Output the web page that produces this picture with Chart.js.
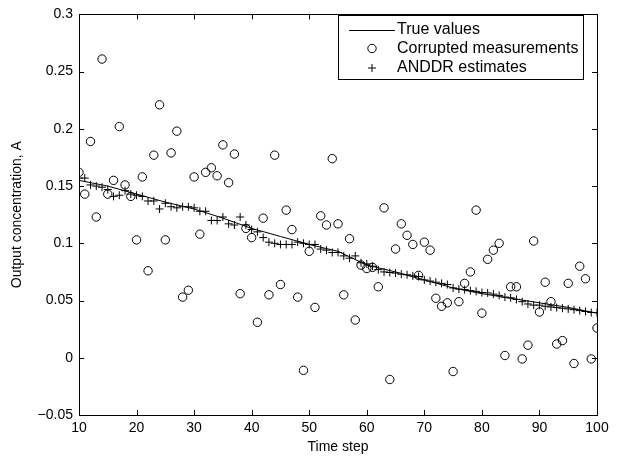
<!DOCTYPE html>
<html>
<head>
<meta charset="utf-8">
<script src="https://cdn.jsdelivr.net/npm/chart.js@4.4.0/dist/chart.umd.min.js"></script>
<style>
  html, body { margin: 0; padding: 0; background: #fff; }
  #wrap { width: 623px; height: 459px; }
</style>
</head>
<body>
<div id="wrap"><canvas id="chart" width="623" height="459"></canvas></div>
<script>
// Time steps (x axis)
const timeSteps = [
  10, 11, 12, 13, 14, 15, 16, 17, 18, 19, 20, 21, 22, 23, 24, 25, 26, 27, 28, 29,
  30, 31, 32, 33, 34, 35, 36, 37, 38, 39, 40, 41, 42, 43, 44, 45, 46, 47, 48, 49,
  50, 51, 52, 53, 54, 55, 56, 57, 58, 59, 60, 61, 62, 63, 64, 65, 66, 67, 68, 69,
  70, 71, 72, 73, 74, 75, 76, 77, 78, 79, 80, 81, 82, 83, 84, 85, 86, 87, 88, 89,
  90, 91, 92, 93, 94, 95, 96, 97, 98, 99, 100
];

// Corrupted measurements (circles), one per time step
const measuredValues = [
  0.162, 0.143, 0.189, 0.123, 0.261, 0.143, 0.155, 0.202, 0.151, 0.141,
  0.103, 0.158, 0.076, 0.177, 0.221, 0.103, 0.179, 0.198, 0.053, 0.059,
  0.158, 0.108, 0.162, 0.166, 0.159, 0.186, 0.153, 0.178, 0.056, 0.113,
  0.105, 0.031, 0.122, 0.055, 0.177, 0.064, 0.129, 0.112, 0.053, -0.011,
  0.093, 0.044, 0.124, 0.116, 0.174, 0.117, 0.055, 0.104, 0.033, 0.081,
  0.078, 0.079, 0.062, 0.131, -0.019, 0.095, 0.117, 0.107, 0.099, 0.072,
  0.101, 0.094, 0.052, 0.045, 0.048, -0.012, 0.049, 0.065, 0.075, 0.129,
  0.039, 0.086, 0.094, 0.100, 0.002, 0.062, 0.062, -0.001, 0.011, 0.102,
  0.040, 0.066, 0.049, 0.012, 0.015, 0.065, -0.005, 0.080, 0.069, -0.001,
  0.026
];

// ANDDR estimates (crosses), one per time step
const estimateValues = [
  0.157, 0.157, 0.151, 0.150, 0.149, 0.147, 0.141, 0.142, 0.146, 0.143,
  0.142, 0.141, 0.137, 0.137, 0.130, 0.135, 0.132, 0.131, 0.132, 0.132,
  0.131, 0.128, 0.128, 0.120, 0.120, 0.123, 0.117, 0.116, 0.123, 0.116,
  0.112, 0.110, 0.105, 0.101, 0.100, 0.099, 0.099, 0.099, 0.101, 0.100,
  0.099, 0.099, 0.095, 0.094, 0.092, 0.092, 0.089, 0.087, 0.089, 0.083,
  0.082, 0.080, 0.077, 0.075, 0.0745, 0.074, 0.073, 0.0725, 0.0716, 0.071,
  0.068, 0.067, 0.066, 0.065, 0.064, 0.061, 0.060, 0.0596, 0.0587, 0.058,
  0.057, 0.0567, 0.0556, 0.0545, 0.053, 0.0524, 0.051, 0.049, 0.047, 0.046,
  0.046, 0.045, 0.0444, 0.0438, 0.0433, 0.0427, 0.042, 0.0412, 0.0404, 0.0395,
  0.0395
];

// True values (solid line), read every 5 steps
const trueSteps = [10, 15, 20, 25, 30, 35, 40, 45, 50, 55, 60, 65, 70, 75, 80, 85, 90, 95, 100];
const trueValues = [
  0.155, 0.150, 0.143, 0.136, 0.130, 0.122, 0.113, 0.106, 0.099, 0.093,
  0.081, 0.075, 0.068, 0.061, 0.056, 0.052, 0.048, 0.044, 0.039
];

// Axis ticks
const xTickValues = [10, 20, 30, 40, 50, 60, 70, 80, 90, 100];
const yTickValues = [-0.05, 0, 0.05, 0.1, 0.15, 0.2, 0.25, 0.3];
const yTickLabels = ["\u22120.05", "0", "0.05", "0.1", "0.15", "0.2", "0.25", "0.3"];

const FONT = "'Liberation Sans', Arial, Helvetica, sans-serif";

function toPoints(xs, ys) {
  return xs.map((x, i) => ({ x: x, y: ys[i] }));
}

// Box round the plot with inward ticks on all four sides
const framePlugin = {
  id: "frame",
  afterDraw(chart) {
    const { ctx, chartArea: a, scales } = chart;
    const len = 5;
    ctx.save();
    ctx.strokeStyle = "#000";
    ctx.lineWidth = 1;
    ctx.beginPath();
    xTickValues.forEach((v) => {
      const px = Math.round(scales.x.getPixelForValue(v)) + 0.5;
      ctx.moveTo(px, a.bottom);
      ctx.lineTo(px, a.bottom - len);
      ctx.moveTo(px, a.top);
      ctx.lineTo(px, a.top + len);
    });
    yTickValues.forEach((v) => {
      const py = Math.round(scales.y.getPixelForValue(v)) + 0.5;
      ctx.moveTo(a.left, py);
      ctx.lineTo(a.left + len, py);
      ctx.moveTo(a.right, py);
      ctx.lineTo(a.right - len, py);
    });
    ctx.stroke();
    ctx.strokeRect(Math.round(a.left) + 0.5, Math.round(a.top) + 0.5,
      Math.round(a.right - a.left), Math.round(a.bottom - a.top));
    ctx.restore();
  },
};

// MATLAB style legend box in the upper right corner
const legendBoxPlugin = {
  id: "legendBox",
  afterDraw(chart) {
    const { ctx } = chart;
    const box = { left: 338.5, top: 15.5, width: 245, height: 64 };
    const rows = [29.5, 48.5, 68];
    const symX = 372;
    const textX = 397;
    ctx.save();
    ctx.fillStyle = "#fff";
    ctx.fillRect(box.left, box.top, box.width, box.height);
    ctx.strokeStyle = "#000";
    ctx.lineWidth = 1;
    ctx.strokeRect(box.left, box.top, box.width, box.height);

    chart.data.datasets.forEach((ds, i) => {
      const y = rows[i];
      ctx.strokeStyle = "#000";
      ctx.lineWidth = 1;
      ctx.beginPath();
      if (ds.showLine) {
        ctx.moveTo(349, Math.round(y) + 0.5);
        ctx.lineTo(395, Math.round(y) + 0.5);
      } else if (ds.pointStyle === "circle") {
        ctx.arc(symX, y, ds.pointRadius, 0, Math.PI * 2);
      } else {
        ctx.moveTo(symX - ds.pointRadius, y);
        ctx.lineTo(symX + ds.pointRadius, y);
        ctx.moveTo(symX, y - ds.pointRadius);
        ctx.lineTo(symX, y + ds.pointRadius);
      }
      ctx.stroke();
      ctx.fillStyle = "#000";
      ctx.font = "16px " + FONT;
      ctx.textBaseline = "middle";
      ctx.textAlign = "left";
      ctx.fillText(ds.label, textX, y);
    });
    ctx.restore();
  },
};

const ctx = document.getElementById("chart").getContext("2d");
const chart = new Chart(ctx, {
  type: "scatter",
  data: {
    datasets: [
      {
        label: "True values",
        data: toPoints(trueSteps, trueValues),
        showLine: true,
        borderColor: "#000",
        borderWidth: 1,
        pointRadius: 0,
        tension: 0,
        order: 3,
      },
      {
        label: "Corrupted measurements",
        data: toPoints(timeSteps, measuredValues),
        showLine: false,
        pointStyle: "circle",
        pointRadius: 4.2,
        borderColor: "#000",
        backgroundColor: "rgba(0,0,0,0)",
        borderWidth: 1,
        order: 2,
      },
      {
        label: "ANDDR estimates",
        data: toPoints(timeSteps, estimateValues),
        showLine: false,
        pointStyle: "cross",
        pointRadius: 4,
        borderColor: "#000",
        backgroundColor: "#000",
        borderWidth: 1,
        order: 1,
      },
    ],
  },
  options: {
    responsive: false,
    animation: false,
    devicePixelRatio: 1,
    layout: { padding: { top: 7, right: 26, bottom: 0, left: 0 } },
    plugins: {
      legend: { display: false },
      tooltip: { enabled: false },
    },
    scales: {
      x: {
        type: "linear",
        min: 10,
        max: 100,
        afterBuildTicks: (scale) => {
          scale.ticks = xTickValues.map((v) => ({ value: v }));
        },
        afterFit: (scale) => {
          scale.height = 44;
        },
        grid: { display: false, drawTicks: false },
        border: { display: false },
        ticks: {
          color: "#000",
          font: { family: FONT, size: 14 },
          padding: 5,
          maxRotation: 0,
          callback: (v) => String(v),
        },
        title: {
          display: true,
          text: "Time step",
          color: "#000",
          font: { family: FONT, size: 14 },
          padding: { top: 0, bottom: 3 },
        },
      },
      y: {
        type: "linear",
        min: -0.05,
        max: 0.3,
        afterBuildTicks: (scale) => {
          scale.ticks = yTickValues.map((v) => ({ value: v }));
        },
        afterFit: (scale) => {
          scale.width = 79;
        },
        grid: { display: false, drawTicks: false },
        border: { display: false },
        ticks: {
          color: "#000",
          font: { family: FONT, size: 14 },
          padding: 6,
          callback: (v, i) => yTickLabels[i],
        },
        title: {
          display: true,
          text: "Output concentration, A",
          color: "#000",
          font: { family: FONT, size: 14 },
          padding: { top: 9, bottom: 0 },
        },
      },
    },
  },
  plugins: [framePlugin, legendBoxPlugin],
});
</script>
</body>
</html>
